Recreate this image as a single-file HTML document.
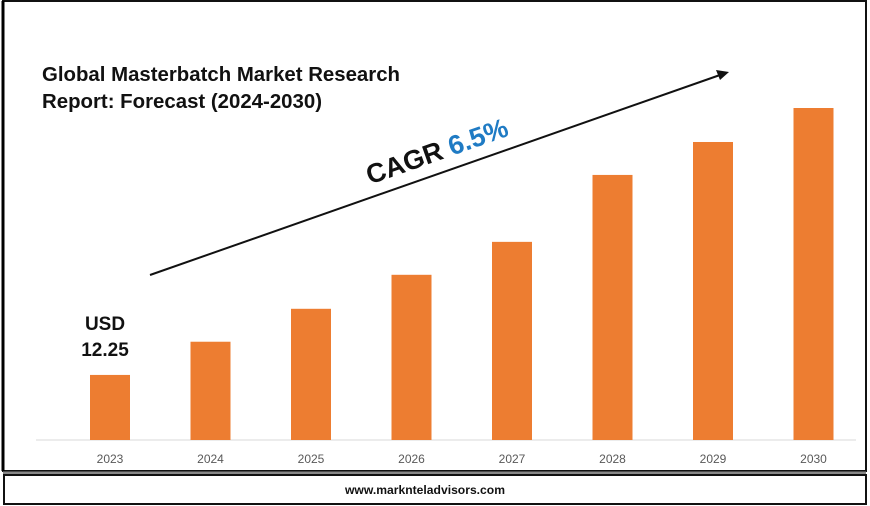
<!DOCTYPE html>
<html><head><meta charset="utf-8"><style>
body{margin:0;width:870px;height:506px;background:#fff;overflow:hidden;font-family:"Liberation Sans",sans-serif}
</style></head><body>
<svg width="870" height="506" style="position:absolute;left:0;top:0">
<rect x="3" y="1" width="863" height="470" fill="#fff" stroke="#111" stroke-width="2"/>
<line x1="3" y1="1" x2="3" y2="471" stroke="#000" stroke-width="3"/>
<line x1="3" y1="473" x2="866" y2="473" stroke="#888" stroke-width="3"/>
<rect x="4" y="475" width="862" height="29" fill="#fff" stroke="#111" stroke-width="2"/>
<text x="345" y="494" textLength="160" lengthAdjust="spacingAndGlyphs" font-size="12" font-weight="bold" fill="#111">www.marknteladvisors.com</text>
<text x="42" y="81" textLength="358" lengthAdjust="spacingAndGlyphs" font-size="20" font-weight="bold" fill="#111">Global Masterbatch Market Research</text>
<text x="42" y="108" textLength="280" lengthAdjust="spacingAndGlyphs" font-size="20" font-weight="bold" fill="#111">Report: Forecast (2024-2030)</text>
<line x1="150" y1="275" x2="720" y2="75" stroke="#111" stroke-width="2"/>
<polygon points="729,72 716,70 720,80" fill="#111"/>
<text transform="translate(440,160) rotate(-19.4)" text-anchor="middle" font-size="27" font-weight="bold" fill="#111">CAGR <tspan fill="#1f7bc4">6.5%</tspan></text>
<text x="105" y="330" text-anchor="middle" font-size="19" font-weight="bold" fill="#111">USD</text>
<text x="105" y="356" text-anchor="middle" font-size="19" font-weight="bold" fill="#111">12.25</text>
<line x1="36" y1="440" x2="856" y2="440" stroke="#d9d9d9" stroke-width="1"/>
<g id="bars"></g>
</svg>
<script>
const categories=["2023","2024","2025","2026","2027","2028","2029","2030"];
const values=[12.25,18.5,24.7,31.1,37.3,49.9,56.1,62.5];
const yMax=62.5;
const baseY=440, plotH=332, x0=110, step=100.5, bw=40;
function yScale(v){return baseY-v/yMax*plotH;}
function xScale(i){return x0+i*step;}
const g=document.getElementById('bars');
const ns="http://www.w3.org/2000/svg";
categories.forEach((c,i)=>{
  const r=document.createElementNS(ns,'rect');
  r.setAttribute('x',xScale(i)-bw/2);
  r.setAttribute('y',yScale(values[i]));
  r.setAttribute('width',bw);
  r.setAttribute('height',baseY-yScale(values[i]));
  r.setAttribute('fill','#ed7d31');
  
  
  g.appendChild(r);
  const t=document.createElementNS(ns,'text');
  t.setAttribute('x',xScale(i));
  t.setAttribute('y',463);
  t.setAttribute('text-anchor','middle');
  t.setAttribute('font-size','12');
  t.setAttribute('fill','#595959');
  t.textContent=c;
  
  
  g.appendChild(t);
});
</script>
</body></html>
